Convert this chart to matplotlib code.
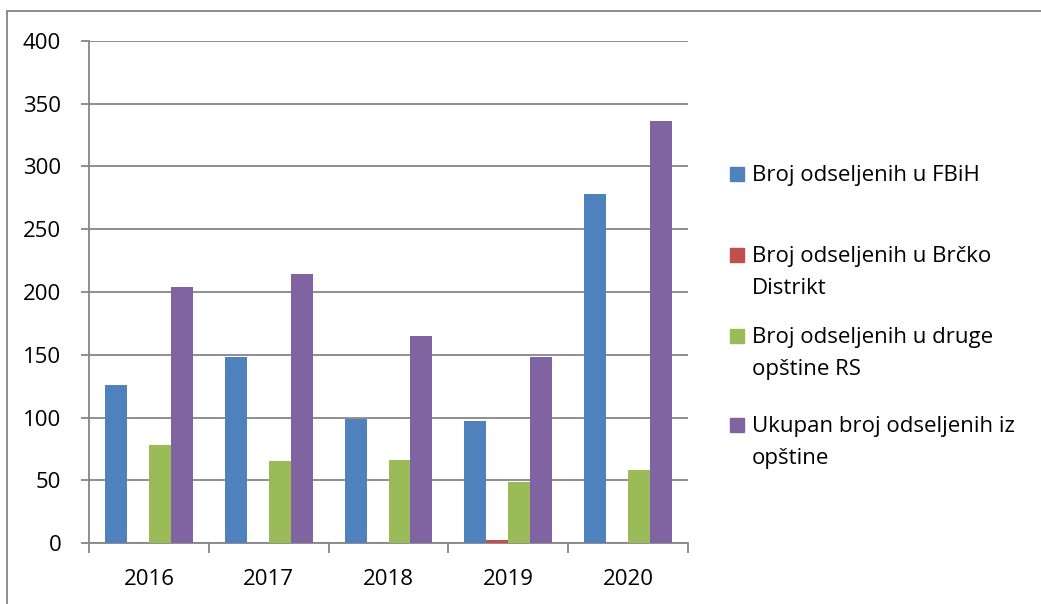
import numpy as np
import matplotlib.pyplot as plt
from matplotlib.patches import Rectangle
from matplotlib.lines import Line2D

plt.rcParams['font.family'] = ['Open Sans', 'DejaVu Sans']

godine = ['2016', '2017', '2018', '2019', '2020']
fbih = [126, 148, 99, 97, 278]
brcko = [0, 0.3, 0, 2, 0]
druge_rs = [78, 65, 66, 49, 58]
ukupno = [204, 214, 165, 148, 336]

serije = [fbih, brcko, druge_rs, ukupno]
nazivi = ['Broj odseljenih u FBiH',
          'Broj odseljenih u Brčko\nDistrikt',
          'Broj odseljenih u druge\nopštine RS',
          'Ukupan broj odseljenih iz\nopštine']
boje = ['#4F81BD', '#C0504D', '#9BBB59', '#8064A2']
siva = '#868686'

W, H = 1041, 604
fig = plt.figure(figsize=(W / 100, H / 100), dpi=100)
ax = fig.add_axes([89 / W, 1 - 543 / H, (688 - 89) / W, (543 - 41) / H])

x = np.arange(len(godine))
bw = 0.183
for i, (vals, c) in enumerate(zip(serije, boje)):
    ax.bar(x + (i - 1.5) * bw, vals, width=bw, color=c, zorder=3)

ax.set_xlim(-0.5, len(godine) - 0.5)
ax.set_ylim(0, 400)
ax.set_yticks(range(0, 401, 50))
ax.yaxis.grid(True, color=siva, linewidth=1.3, zorder=0)
ax.tick_params(axis='y', length=6, width=1.3, color=siva, pad=14, labelsize=16)

ax.set_xticks(x)
ax.set_xticklabels(godine)
ax.set_xticks(np.arange(-0.5, len(godine)), minor=True)
ax.tick_params(axis='x', which='major', length=0, pad=19, labelsize=16)
ax.tick_params(axis='x', which='minor', length=7, width=1.3, color=siva)

for s in ['top', 'right']:
    ax.spines[s].set_visible(False)
for s in ['left', 'bottom']:
    ax.spines[s].set_color(siva)
    ax.spines[s].set_linewidth(1.3)

# legenda rucno, kao u Excelu
baseline = [181, 262, 343, 432]
for naziv, c, yb in zip(nazivi, boje, baseline):
    fig.add_artist(Rectangle((730 / W, 1 - yb / H), 14 / W, 14 / H,
                             transform=fig.transFigure, color=c))
    for j, red in enumerate(naziv.split('\n')):
        fig.text(752 / W, 1 - (yb + j * 32) / H, red, fontsize=16,
                 va='baseline', ha='left')

# okvir grafikona
fig.add_artist(Line2D([7 / W, 1], [1 - 11 / H, 1 - 11 / H], color=siva, lw=1.3))
fig.add_artist(Line2D([7 / W, 7 / W], [0, 1 - 11 / H], color=siva, lw=1.3))

fig.savefig('out.png', dpi=100)
